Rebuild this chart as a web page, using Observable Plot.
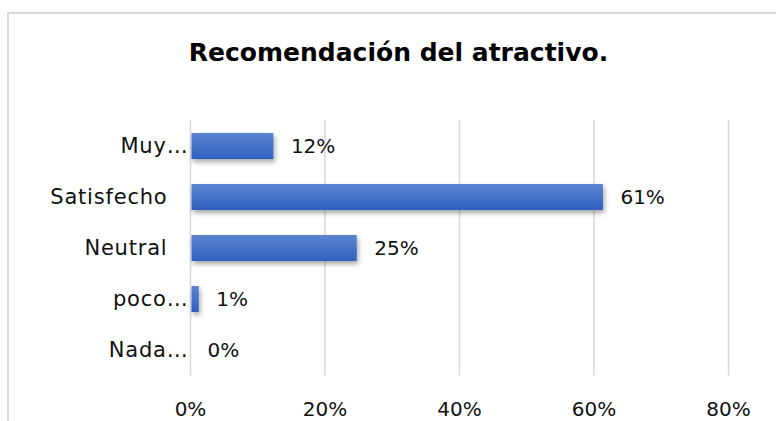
<!DOCTYPE html>
<html><head><meta charset="utf-8">
<script src="https://cdn.jsdelivr.net/npm/d3@7"></script>
<script src="https://cdn.jsdelivr.net/npm/@observablehq/plot@0.6"></script>
<style>
body{margin:0;background:#fff;}
#wrap{position:relative;width:776px;height:421px;overflow:hidden;font-family:"DejaVu Sans",sans-serif;background:#fff;}
#frame{position:absolute;left:7px;top:12px;width:800px;height:500px;border:2px solid #d9d9d9;box-sizing:border-box;}
#title{position:absolute;left:0;top:40px;width:797px;text-align:center;font-weight:bold;font-size:25px;line-height:25px;color:#000;white-space:nowrap;}
#chart{position:absolute;left:0;top:0;}
</style></head>
<body>
<div id="wrap"><div id="frame"></div><div id="title">Recomendación del atractivo.</div><div id="chart"></div></div>
<script>
const categories = ["Muy…", "Satisfecho", "Neutral", "poco…", "Nada…"];
const values = [0.124, 0.614, 0.248, 0.013, 0];
const xTicks = [0, 0.2, 0.4, 0.6, 0.8];

const data = categories.map((c, i) => ({category: c, value: values[i]}));
const fmt = d3.format(".0%");
const full = data.filter(d => !d.category.endsWith("…"));
const trunc = data.filter(d => d.category.endsWith("…"));

const svg = Plot.plot({
  width: 776, height: 421,
  marginLeft: 190, marginRight: 48, marginTop: 120, marginBottom: 45.5,
  style: {fontFamily: "DejaVu Sans", fontSize: "20px", background: "transparent", color: "#000"},
  x: {domain: [0, 0.8], ticks: xTicks, tickFormat: fmt, tickSize: 0, tickPadding: 26, axis: "bottom", label: null},
  y: {domain: categories, paddingInner: 0.5, paddingOuter: 0.25, axis: null},
  marks: [
    Plot.ruleX(xTicks, {stroke: "#d9d9d9", strokeWidth: 1.5}),
    Plot.barX(data, {x: "value", y: "category", fill: "url(#barGrad)", insetLeft: 1.5}),
    Plot.text(data, {x: "value", y: "category", text: d => fmt(d.value), dx: 17, textAnchor: "start", fontSize: 20, fill: "#111"}),
    Plot.text(full, {frameAnchor: "left", y: "category", text: "category", dx: -23, textAnchor: "end", fontSize: 21, fill: "#111"}),
    Plot.text(trunc, {frameAnchor: "left", y: "category", text: "category", dx: -2, textAnchor: "end", fontSize: 21, fill: "#111"})
  ]
});

const s = d3.select(svg);
const defs = s.insert("defs", ":first-child");
const g = defs.append("linearGradient").attr("id", "barGrad").attr("x1", 0).attr("y1", 0).attr("x2", 0).attr("y2", 1);
g.append("stop").attr("offset", "0%").attr("stop-color", "#5d84d0");
g.append("stop").attr("offset", "100%").attr("stop-color", "#3060c0");
const f = defs.append("filter").attr("id", "barShadow").attr("filterUnits", "userSpaceOnUse")
  .attr("x", 0).attr("y", 0).attr("width", 776).attr("height", 421);
f.append("feDropShadow").attr("dx", 1.5).attr("dy", 3).attr("stdDeviation", 2.5)
  .attr("flood-color", "#000").attr("flood-opacity", 0.35);
s.selectAll("g[aria-label='bar'] rect").attr("filter", "url(#barShadow)");
s.selectAll("text").filter(function() { return categories.includes(this.textContent); })
  .style("letter-spacing", "0.8px");
s.selectAll("g[aria-label='x-axis tick label'] text, g[aria-label='x-axis'] text").attr("fill", "#111");

document.getElementById("chart").appendChild(svg);
</script>
</body></html>
